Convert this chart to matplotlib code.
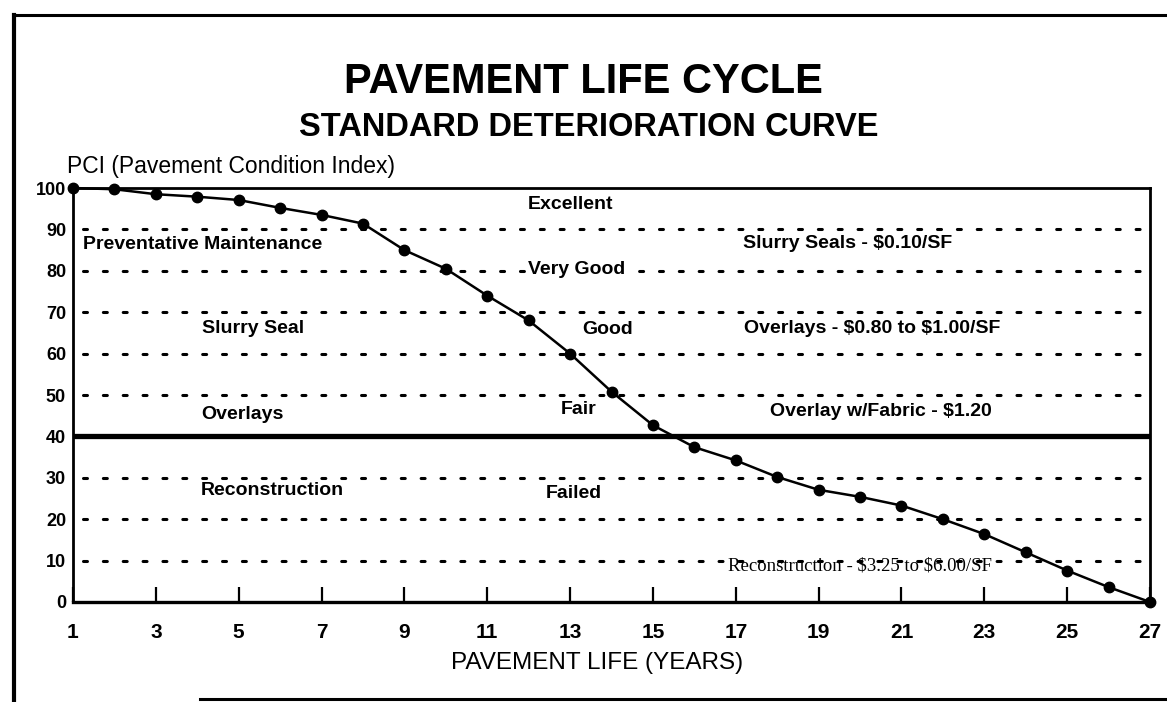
import matplotlib
matplotlib.use("Agg")
import matplotlib.pyplot as plt
from matplotlib.lines import Line2D

plt.rcParams['font.family'] = ['Liberation Sans', 'DejaVu Sans']

# pavement condition over the years
years = list(range(1, 28))
pci = [100, 99.7, 98.5, 97.9, 97.1, 95.2, 93.5, 91.4, 85, 80.5, 74, 68, 60,
       50.8, 42.7, 37.4, 34.2, 30.2, 27.1, 25.4, 23.3, 20, 16.4, 12, 7.6, 3.6, 0]

grid_levels = [10, 20, 30, 50, 60, 70, 80, 90]
cutoff = 40
xticks = list(range(1, 28, 2))
yticks = list(range(0, 101, 10))

left_labels = ["Preventative Maintenance", "Slurry Seal", "Overlays", "Reconstruction"]
mid_labels = ["Excellent", "Very Good", "Good", "Fair", "Failed"]
cost_labels = ["Slurry Seals - \\$0.10/SF", "Overlays - \\$0.80 to \\$1.00/SF",
               "Overlay w/Fabric - \\$1.20"]
recon_cost = "Reconstruction - \\$3.25 to \\$6.00/SF"

W, H = 1167, 702
fig = plt.figure(figsize=(W / 100, H / 100), dpi=100)
ax = fig.add_axes([73 / W, 1 - 602 / H, (1150 - 73) / W, (602 - 188) / H])

# dotted band lines and the thick 40 cut-off
for g in grid_levels:
    ax.plot([1.25, 26.75], [g, g], color='black', lw=2.2,
            linestyle=(0, (1.3, 5.2)), dash_capstyle='round', zorder=1)
ax.axhline(cutoff, color='black', lw=3.8, zorder=2)

ax.plot(years, pci, color='black', lw=1.8, marker='o', markersize=7.5,
        clip_on=False, zorder=4)

ax.set_xlim(1, 27)
ax.set_ylim(0, 100)
ax.set_xticks(xticks)
ax.set_xticklabels([str(t) for t in xticks], fontsize=15, fontweight='bold')
ax.set_yticks(yticks)
ax.set_yticklabels([str(t) for t in yticks], fontsize=13, fontweight='bold')
ax.tick_params(axis='x', direction='in', length=11, width=1.6, pad=15)
ax.tick_params(axis='y', length=0, pad=5)
for s in ax.spines.values():
    s.set_linewidth(2)
ax.spines['bottom'].set_linewidth(2.4)

tkw = dict(fontsize=14, fontweight='bold', va='center', zorder=3)
# left column
ax.text(1.25, 86.3, left_labels[0], ha='left', **tkw)
ax.text(5.35, 66, left_labels[1], ha='center', **tkw)
ax.text(5.1, 45.4, left_labels[2], ha='center', **tkw)
ax.text(5.8, 27, left_labels[3], ha='center', **tkw)
# condition names
ax.text(13.0, 96, mid_labels[0], ha='center', **tkw)
ax.text(13.15, 80.3, mid_labels[1], ha='center',
        bbox=dict(facecolor='white', edgecolor='none', pad=1), **tkw)
ax.text(13.9, 65.8, mid_labels[2], ha='center', **tkw)
ax.text(13.2, 46.5, mid_labels[3], ha='center', **tkw)
ax.text(13.1, 26.3, mid_labels[4], ha='center', **tkw)
# cost notes
ax.text(19.7, 86.5, cost_labels[0], ha='center', **tkw)
ax.text(20.3, 66, cost_labels[1], ha='center', **tkw)
ax.text(20.5, 46, cost_labels[2], ha='center', **tkw)
ax.text(20.0, 8.6, recon_cost, ha='center', va='center', fontsize=13.5,
        family='Liberation Serif', zorder=3)

fig.text(583 / W, 1 - 82 / H, "PAVEMENT LIFE CYCLE", ha='center', va='center',
         fontsize=30, fontweight='bold')
fig.text(589 / W, 1 - 127 / H, "STANDARD DETERIORATION CURVE", ha='center',
         va='center', fontsize=23.5, fontweight='bold')
fig.text(67 / W, 1 - 167 / H, "PCI (Pavement Condition Index)", ha='left',
         va='center', fontsize=16.5)
fig.text(597 / W, 1 - 663 / H, "PAVEMENT LIFE (YEARS)", ha='center',
         va='center', fontsize=17.5)

# scanned page frame
fig.add_artist(Line2D([14 / W, 14 / W], [0, 1 - 15 / H], color='black', lw=3))
fig.add_artist(Line2D([14 / W, 1], [1 - 15 / H, 1 - 15 / H], color='black', lw=2.2))
fig.add_artist(Line2D([200 / W, 1], [1 - 699 / H, 1 - 699 / H], color='black', lw=2.2))

fig.savefig("out.png", dpi=100)
